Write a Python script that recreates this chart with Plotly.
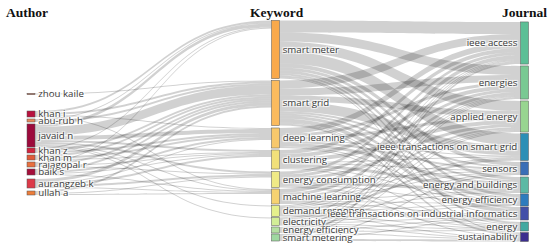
import plotly.graph_objects as go

authors = ["zhou kaile", "khan i", "abu-rub h", "javaid n", "khan z", "khan m",
           "rajagopal r", "baik s", "aurangzeb k", "ullah a"]
keywords = ["smart meter", "smart grid", "deep learning", "clustering", "energy consumption",
            "machine learning", "demand response", "electricity", "energy efficiency", "smart metering"]
journals = ["ieee access", "energies", "applied energy", "ieee transactions on smart grid", "sensors",
            "energy and buildings", "energy efficiency", "ieee transactions on industrial informatics",
            "energy", "sustainability"]

# author -> keyword flows (rows: authors, cols: keywords)
author_keyword = [
    [0, 1, 0, 0, 0, 0, 0, 0, 0, 0],
    [2, 2, 1, 0, 0, 1, 0, 0, 0, 0],
    [1, 2, 0, 0, 0, 0, 0, 0, 0, 0],
    [3, 9, 4, 2, 2, 1, 1, 1, 0, 0],
    [1, 2, 2, 0, 0, 0, 0, 0, 0, 0],
    [0, 2, 2, 1, 0, 0, 0, 0, 0, 0],
    [1, 2, 0, 1, 1, 0, 0, 0, 0, 0],
    [0, 2, 2, 1, 0, 1, 0, 0, 0, 0],
    [0, 3, 1, 2, 2, 1, 0, 0, 0, 0],
    [0, 2, 0, 0, 1, 1, 0, 0, 0, 0],
]

# keyword -> journal flows (rows: keywords, cols: journals)
keyword_journal = [
    [12, 9, 10, 12, 4, 3, 3, 2, 2, 1],
    [8, 7, 6, 10, 2, 2, 3, 4, 1, 2],
    [6, 3, 3, 1, 2, 3, 1, 1, 0, 0],
    [4, 4, 4, 1, 1, 3, 1, 0, 1, 0],
    [3, 3, 3, 0, 1, 3, 1, 0, 1, 1],
    [4, 3, 2, 1, 1, 1, 1, 1, 1, 0],
    [1, 1, 1, 2, 0, 1, 1, 2, 1, 1],
    [1, 1, 1, 0, 1, 0, 1, 1, 1, 1],
    [1, 1, 1, 0, 0, 0, 0, 1, 1, 1],
    [2, 1, 0, 0, 1, 0, 0, 1, 0, 2],
]

author_colors = ["#a8401f", "#b8123e", "#e8885a", "#9c0a3c", "#d2243f", "#e05a3a",
                 "#e8703f", "#a50f3a", "#dc3a48", "#ec7d3a"]
keyword_colors = ["#f9a94b", "#fbbb5e", "#f7c86c", "#f1e07a", "#efea86", "#f6d271",
                  "#e5f08c", "#d3ee97", "#b5e0a2", "#9fd8a0"]
journal_colors = ["#5cbf96", "#79c993", "#98d590", "#2b8fb6", "#3a6eb6", "#5cb9a4",
                  "#2e7cbd", "#4350a8", "#42a9a0", "#3c2e8e"]

# node layout (centres, pixels in a 550x247 plot)
author_y = [94, 114, 120.5, 135.5, 150.5, 157.5, 164.5, 172, 183.5, 193]
keyword_y = [49.5, 103, 138, 159.5, 179.5, 196.5, 211, 221.5, 230, 237.5]
journal_y = [43, 82.5, 116.5, 147, 168.5, 185, 200, 213.5, 226.5, 237]
W, H = 550, 247
col_x = [31 / W, 275.5 / W, 524.5 / W]

labels = authors + keywords + journals
colors = author_colors + keyword_colors + journal_colors
nx = [col_x[0]] * 10 + [col_x[1]] * 10 + [col_x[2]] * 10
ny = [v / H for v in author_y + keyword_y + journal_y]

src, tgt, val = [], [], []
for i, row in enumerate(author_keyword):
    for j, v in enumerate(row):
        if v:
            src.append(i); tgt.append(10 + j); val.append(v)
for i, row in enumerate(keyword_journal):
    for j, v in enumerate(row):
        if v:
            src.append(10 + i); tgt.append(20 + j); val.append(v)

fig = go.Figure(go.Sankey(
    arrangement="fixed",
    node=dict(label=labels, color=colors, x=nx, y=ny, pad=4.6, thickness=8,
              line=dict(color="#555", width=0.5)),
    link=dict(source=src, target=tgt, value=val, color="rgba(0,0,0,0.18)"),
    textfont=dict(family="Open Sans", size=9.7, color="#3a3a3a"),
))

for txt, x in [("Author", 26.5), ("Keyword", 277), ("Journal", 524.5)]:
    fig.add_annotation(text="<b>" + txt + "</b>", x=x / W, y=1 - 12.5 / H, xref="paper", yref="paper",
                       showarrow=False, xanchor="center", yanchor="middle",
                       font=dict(family="Liberation Serif", size=13.5, color="#111"))

fig.update_layout(width=W, height=H, margin=dict(l=0, r=0, t=0, b=0),
                  paper_bgcolor="white", plot_bgcolor="white")
fig.write_html("out.html", config={"displayModeBar": False},
               post_script="document.body.style.margin='0';document.body.style.overflow='hidden';")
